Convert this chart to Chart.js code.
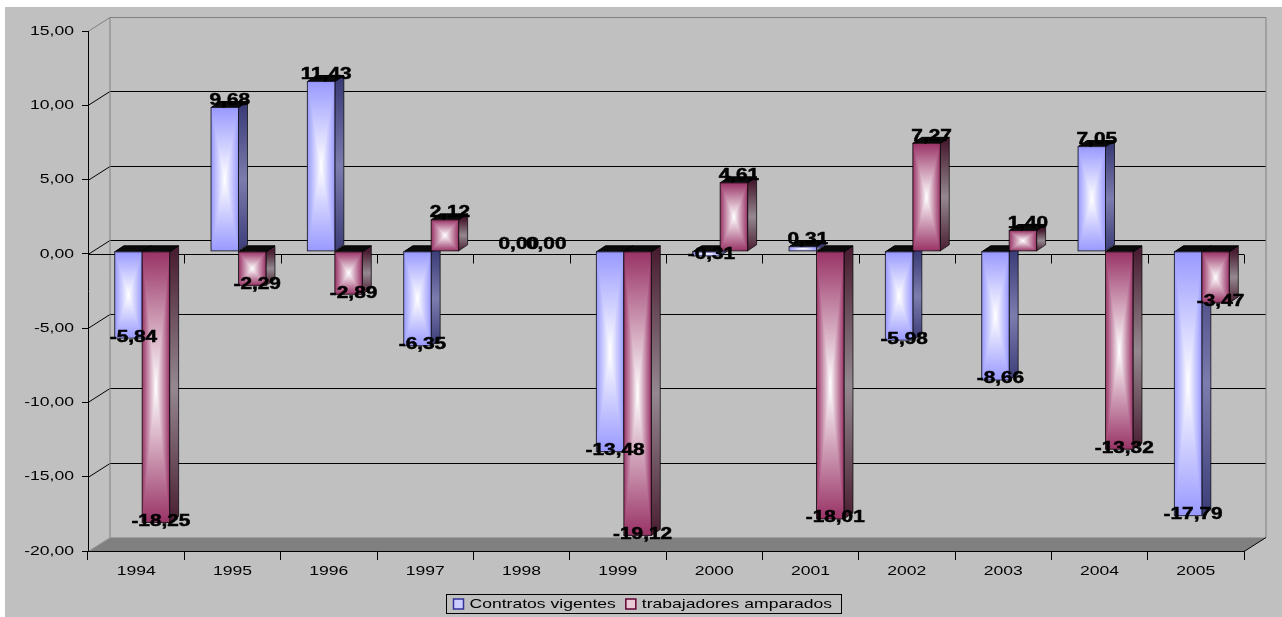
<!DOCTYPE html>
<html>
<head>
<meta charset="utf-8">
<script src="https://cdn.jsdelivr.net/npm/chart.js@4"></script>
<style>
  html, body { margin: 0; padding: 0; background: #fff; }
  #wrap { position: absolute; left: 0; top: 0; width: 1282px; height: 617px; }
</style>
</head>
<body>
<div id="wrap"><canvas id="chart"></canvas></div>
<script>
// data
const years = ["1994","1995","1996","1997","1998","1999","2000","2001","2002","2003","2004","2005"];
const contratos = [-5.84, 9.68, 11.43, -6.35, 0.00, -13.48, -0.31, 0.31, -5.98, -8.66, 7.05, -17.79];
const trabajadores = [-18.25, -2.29, -2.89, 2.12, 0.00, -19.12, 4.61, -18.01, 7.27, 1.40, -13.32, -3.47];
const seriesNames = ["Contratos vigentes", "trabajadores amparados"];
const yMin = -20, yMax = 15, yStep = 5;

// look
const edgeColors = ["#9999ff", "#993366"];
const sideColors = [["#3c3c78", "#7c7cae"], ["#4a1e32", "#948890"]];
const markerColors = [["#ccccff", "#333399"], ["#e8c8d4", "#660033"]];
const WALL = { dx: 22, dy: -14 };
const BAR = { fx: 6, fy: -2.5, dx: 9, dy: -6 };
const SX = 1.3; // the reference text is stretched sideways

function fmt(v) { return v.toFixed(2).replace('.', ','); }

function wideText(ctx, text, x, y, font, align, heavy) {
  ctx.save();
  ctx.font = font;
  ctx.fillStyle = "#000";
  ctx.textBaseline = "middle";
  ctx.textAlign = align || "center";
  ctx.translate(x, y);
  ctx.scale(SX, 1);
  ctx.fillText(text, 0, 0);
  if (heavy) {
    ctx.strokeStyle = "#000";
    ctx.lineWidth = 0.5;
    ctx.strokeText(text, 0, 0);
  }
  ctx.restore();
}

function poly(ctx, pts, fill, stroke) {
  ctx.beginPath();
  ctx.moveTo(pts[0][0], pts[0][1]);
  for (let i = 1; i < pts.length; i++) ctx.lineTo(pts[i][0], pts[i][1]);
  ctx.closePath();
  if (fill) { ctx.fillStyle = fill; ctx.fill(); }
  if (stroke) { ctx.strokeStyle = stroke; ctx.lineWidth = 1; ctx.stroke(); }
}

// rectangle filled "from the centre": white middle, coloured edges
function centerRect(ctx, x, y, w, h, edge) {
  const cx = x + w / 2, cy = y + h / 2;
  let g = ctx.createLinearGradient(x, 0, x + w, 0);
  g.addColorStop(0, edge); g.addColorStop(0.5, "#ffffff"); g.addColorStop(1, edge);
  ctx.fillStyle = g;
  ctx.fillRect(x, y, w, h);
  g = ctx.createLinearGradient(0, y, 0, cy);
  g.addColorStop(0, edge); g.addColorStop(1, "#ffffff");
  poly(ctx, [[x, y], [x + w, y], [cx, cy]], g);
  g = ctx.createLinearGradient(0, y + h, 0, cy);
  g.addColorStop(0, edge); g.addColorStop(1, "#ffffff");
  poly(ctx, [[x, y + h], [x + w, y + h], [cx, cy]], g);
}

const scene = {
  id: "scene",
  beforeDraw(chart) {
    const ctx = chart.ctx;
    const ys = chart.scales.y, xs = chart.scales.x;
    const L = xs.left, R = xs.right;
    ctx.save();
    ctx.fillStyle = "#c0c0c0";
    ctx.fillRect(5, 7, 1277, 610);

    // back wall grid
    ctx.lineWidth = 1;
    ys.ticks.forEach(t => {
      const yf = Math.round(ys.getPixelForValue(t.value)) + 0.5;
      const yb = yf + WALL.dy;
      if (t.value === yMin || t.value === yMax) return;
      ctx.strokeStyle = "#000";
      ctx.beginPath();
      ctx.moveTo(L, yf); ctx.lineTo(L + WALL.dx, yb); ctx.lineTo(R + WALL.dx, yb);
      ctx.stroke();
    });
    // wall outline
    const top = Math.round(ys.getPixelForValue(yMax)) + 0.5;
    const bot = Math.round(ys.getPixelForValue(yMin)) + 0.5;
    ctx.strokeStyle = "#808080";
    ctx.beginPath();
    ctx.moveTo(L, top); ctx.lineTo(L + WALL.dx, top + WALL.dy); ctx.lineTo(R + WALL.dx, top + WALL.dy);
    ctx.lineTo(R + WALL.dx, bot + WALL.dy);
    ctx.moveTo(L + WALL.dx, top + WALL.dy); ctx.lineTo(L + WALL.dx, bot + WALL.dy);
    ctx.stroke();
    // floor
    poly(ctx, [[L, bot], [R, bot], [R + WALL.dx, bot + WALL.dy], [L + WALL.dx, bot + WALL.dy]], "#808080");
    ctx.strokeStyle = "#000";
    ctx.beginPath(); ctx.moveTo(R, bot); ctx.lineTo(R + WALL.dx, bot + WALL.dy); ctx.stroke();
    ctx.strokeStyle = "#a0a0a0";
    ctx.beginPath(); ctx.moveTo(L, bot); ctx.lineTo(L + WALL.dx, bot + WALL.dy); ctx.stroke();

    // category axis line at zero, in front
    const y0 = Math.round(ys.getPixelForValue(0)) + 0.5;
    const cw = (R - L) / years.length;
    ctx.strokeStyle = "#000";
    ctx.beginPath();
    ctx.moveTo(L, y0); ctx.lineTo(R, y0);
    for (let i = 0; i <= years.length; i++) {
      const xx = Math.round(L + i * cw) + 0.5;
      ctx.moveTo(xx, y0); ctx.lineTo(xx, y0 + 9);
    }
    ctx.stroke();
    ctx.restore();
  },
  afterDatasetsDraw(chart) {
    const ctx = chart.ctx;
    ctx.save();
    for (let i = 0; i < years.length; i++) {
      for (let d = 0; d < 2; d++) {
        const el = chart.getDatasetMeta(d).data[i];
        const yTop = Math.min(el.y, el.base) + BAR.fy;
        const yBot = Math.max(el.y, el.base) + BAR.fy;
        const h = yBot - yTop;
        if (h < 0.5) continue;
        const x1 = el.x - el.width / 2 + BAR.fx, x2 = x1 + el.width;
        // side
        const sg = ctx.createLinearGradient(0, yTop, 0, yBot);
        sg.addColorStop(0, sideColors[d][0]);
        sg.addColorStop(0.5, sideColors[d][1]);
        sg.addColorStop(1, sideColors[d][0]);
        poly(ctx, [[x2, yTop], [x2 + BAR.dx, yTop + BAR.dy], [x2 + BAR.dx, yBot + BAR.dy], [x2, yBot]], sg, "rgba(0,0,0,0.7)");
        // top
        poly(ctx, [[x1, yTop], [x2, yTop], [x2 + BAR.dx, yTop + BAR.dy], [x1 + BAR.dx, yTop + BAR.dy]], "#0a0a0a", "#000");
        // front
        centerRect(ctx, x1, yTop, el.width, h, edgeColors[d]);
        ctx.strokeStyle = "rgba(0,0,0,0.75)";
        ctx.lineWidth = 1;
        ctx.strokeRect(x1, yTop, el.width, h);
      }
    }
    // value labels
    for (let d = 0; d < 2; d++) {
      const vals = chart.data.datasets[d].data;
      chart.getDatasetMeta(d).data.forEach((el, i) => {
        const v = vals[i];
        const x = el.x + BAR.fx + 5;
        const y = el.y + BAR.fy + (v >= 0 ? -7 : -1);
        wideText(ctx, fmt(v), x, y, "bold 16px 'Liberation Sans', Arial, sans-serif", "center", true);
      });
    }
    ctx.restore();
  },
  afterDraw(chart) {
    const ctx = chart.ctx;
    const ys = chart.scales.y, xs = chart.scales.x;
    const font = "13.5px 'Liberation Sans', Arial, sans-serif";
    ys.ticks.forEach(t => {
      wideText(ctx, fmt(t.value), ys.right - 14, ys.getPixelForValue(t.value), font, "right");
    });
    years.forEach((yr, i) => {
      wideText(ctx, yr, xs.getPixelForValue(i), 571, font);
    });

    // legend with a box around it
    ctx.save();
    ctx.font = font;
    const tw = seriesNames.map(s => ctx.measureText(s).width * SX);
    const mark = 10, gap = 6, pad = 7, between = 10;
    const W = pad + mark + gap + tw[0] + between + mark + gap + tw[1] + pad + 2;
    const lx = Math.round(643 - W / 2) + 0.5, ly = 594.5, lh = 19;
    ctx.strokeStyle = "#000";
    ctx.lineWidth = 1;
    ctx.strokeRect(lx, ly, Math.round(W), lh);
    let cx = lx + pad;
    seriesNames.forEach((s, k) => {
      ctx.fillStyle = markerColors[k][0];
      ctx.fillRect(cx, ly + 4.5, mark, mark);
      ctx.strokeStyle = markerColors[k][1];
      ctx.lineWidth = 1.5;
      ctx.strokeRect(cx, ly + 4.5, mark, mark);
      cx += mark + gap;
      wideText(ctx, s, cx, ly + lh / 2 + 0.5, font, "left");
      cx += tw[k] + between;
    });
    ctx.restore();
  }
};

new Chart(document.getElementById("chart"), {
  type: "bar",
  data: {
    labels: years,
    datasets: [{
        label: seriesNames[0],
        data: contratos,
        backgroundColor: "rgba(0,0,0,0)",
        borderWidth: 0
      }, {
        label: seriesNames[1],
        data: trabajadores,
        backgroundColor: "rgba(0,0,0,0)",
        borderWidth: 0
      }
    ]
  },
  options: {
    responsive: true,
    maintainAspectRatio: false,
    animation: false,
    categoryPercentage: 0.57,
    barPercentage: 1.0,
    layout: { padding: { left: 0, top: 31, right: 38, bottom: 36 } },
    plugins: {
      legend: { display: false },
      tooltip: { enabled: false }
    },
    scales: {
      x: {
        afterFit: s => { s.height = 30; },
        grid: { drawOnChartArea: false, drawTicks: true, tickLength: 9, color: "#000", offset: true },
        border: { display: true, color: "#000" },
        ticks: { color: "rgba(0,0,0,0)", autoSkip: false, maxRotation: 0 }
      },
      y: {
        min: yMin,
        max: yMax,
        afterFit: s => { s.width = 88; },
        grid: { drawOnChartArea: false, drawTicks: true, tickLength: 6, color: "#000" },
        border: { display: true, color: "#000" },
        ticks: { stepSize: yStep, color: "rgba(0,0,0,0)" }
      }
    }
  },
  plugins: [scene]
});
</script>
</body>
</html>
